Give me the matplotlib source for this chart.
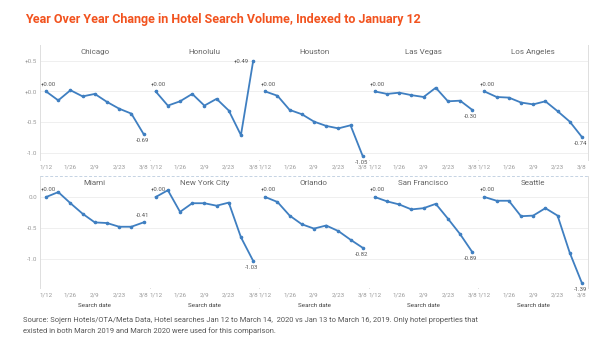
import matplotlib
matplotlib.use("Agg")
import matplotlib.pyplot as plt
from matplotlib.lines import Line2D

cities = ["Chicago", "Honolulu", "Houston", "Las Vegas", "Los Angeles",
          "Miami", "New York City", "Orlando", "San Francisco", "Seattle"]
weeks = ["1/12", "1/19", "1/26", "2/2", "2/9", "2/16", "2/23", "3/1", "3/8"]
tick_labels = ["1/12", "1/26", "2/9", "2/23", "3/8"]

chicago = [0.00, -0.145, 0.02, -0.08, -0.04, -0.17, -0.28, -0.36, -0.69]
honolulu = [0.00, -0.23, -0.16, -0.04, -0.23, -0.12, -0.31, -0.71, 0.49]
houston = [0.00, -0.07, -0.30, -0.37, -0.49, -0.56, -0.60, -0.55, -1.05]
las_vegas = [0.00, -0.04, -0.02, -0.06, -0.09, 0.06, -0.16, -0.15, -0.30]
los_angeles = [0.00, -0.09, -0.10, -0.18, -0.21, -0.16, -0.32, -0.49, -0.74]
miami = [0.00, 0.08, -0.10, -0.27, -0.41, -0.42, -0.48, -0.48, -0.41]
new_york = [0.00, 0.11, -0.24, -0.10, -0.10, -0.14, -0.09, -0.65, -1.03]
orlando = [0.00, -0.08, -0.30, -0.44, -0.51, -0.46, -0.55, -0.69, -0.82]
san_francisco = [0.00, -0.07, -0.12, -0.20, -0.18, -0.11, -0.35, -0.60, -0.89]
seattle = [0.00, -0.06, -0.06, -0.31, -0.30, -0.18, -0.30, -0.90, -1.39]

series = [chicago, honolulu, houston, las_vegas, los_angeles,
          miami, new_york, orlando, san_francisco, seattle]

W, H = 607, 353
fig = plt.figure(figsize=(W / 100, H / 100), dpi=100)
plt.rcParams['font.family'] = ['Roboto', 'DejaVu Sans']

LINE = "#3f7fc1"
GRID = "#ececec"
SEP = "#dedede"
TICK = "#9a9a9a"

def px_axes(x0, y0, x1, y1):
    return fig.add_axes([x0 / W, 1 - y1 / H, (x1 - x0) / W, (y1 - y0) / H])

left0, col_w = 40, 109.6
rows = [dict(top=45, bottom=160, ylim=(-1.114, 0.755), yticks=[0.5, 0.0, -0.5, -1.0],
             ylabels=["+0.5", "+0.0", "-0.5", "-1.0"]),
        dict(top=176, bottom=288, ylim=(-1.47, 0.34), yticks=[0.0, -0.5, -1.0],
             ylabels=["0.0", "-0.5", "-1.0"])]

x = list(range(len(weeks)))
tick_pos = [weeks.index(t) for t in tick_labels]

for i, (city, vals) in enumerate(zip(cities, series)):
    r, c = divmod(i, 5)
    row = rows[r]
    x0 = left0 + c * col_w
    ax = px_axes(x0, row["top"], x0 + col_w, row["bottom"])
    ax.set_xlim(-0.5, len(weeks) - 0.5)
    ax.set_ylim(*row["ylim"])
    for yv in row["yticks"]:
        ax.axhline(yv, color=GRID, lw=0.6, zorder=0)
    ax.plot(x, vals, color=LINE, lw=1.3, marker="o", ms=1.6, zorder=3)
    for s in ["top", "left", "bottom"]:
        ax.spines[s].set_visible(False)
    ax.spines["right"].set_color(SEP)
    ax.spines["right"].set_linewidth(0.7)
    if c == 0:
        ax.spines["left"].set_visible(True)
        ax.spines["left"].set_color(SEP)
        ax.spines["left"].set_linewidth(0.7)
        ax.set_yticks(row["yticks"])
        ax.set_yticklabels(row["ylabels"])
    else:
        ax.set_yticks([])
    ax.tick_params(axis="y", length=0, pad=2, labelsize=4.5, labelcolor=TICK)
    ax.set_xticks(tick_pos)
    ax.set_xticklabels(tick_labels)
    ax.tick_params(axis="x", length=0, pad=3, labelsize=4.5, labelcolor=TICK)
    # panel title
    ax.text(0.5, 1 - 7 / (row["bottom"] - row["top"]), city, transform=ax.transAxes,
            ha="center", va="center", fontsize=5.8, color="#666666")
    # first point label
    ax.annotate(f"{vals[0]:+.2f}", (x[0], vals[0]), xytext=(2, 3.5),
                textcoords="offset points", ha="center", va="bottom",
                fontsize=4.3, color="#555555")
    last = vals[-1]
    lab = f"{last:+.2f}" if last > 0 else f"{last:.2f}"
    if city == "Honolulu":
        ax.annotate(lab, (x[-1], last), xytext=(-3, 0), textcoords="offset points",
                    ha="right", va="center", fontsize=4.3, color="#555555")
    elif city == "Miami":
        ax.annotate(lab, (x[-1], last), xytext=(-1, 3), textcoords="offset points",
                    ha="center", va="bottom", fontsize=4.3, color="#555555")
    else:
        ax.annotate(lab, (x[-1], last), xytext=(-1, -3), textcoords="offset points",
                    ha="center", va="top", fontsize=4.3, color="#555555",
                    annotation_clip=False)
    if r == 1:
        ax.text(0.5, -0.135, "Search date", transform=ax.transAxes, ha="center",
                va="top", fontsize=4.5, color="#444444")

# dashed separator between rows
fig.add_artist(Line2D([left0 / W, (left0 + 5 * col_w) / W], [1 - 176 / H, 1 - 176 / H],
                      color="#c5d3e3", lw=0.7, ls=(0, (3, 2))))

fig.text(25 / W, 1 - 19 / H, "Year Over Year Change in Hotel Search Volume, Indexed to January 12",
         ha="left", va="center", fontsize=9, fontweight="bold", color="#f2531f")

fig.text(23 / W, 1 - 326 / H,
         "Source: Sojern Hotels/OTA/Meta Data, Hotel searches Jan 12 to March 14,  2020 vs Jan 13 to March 16, 2019. Only hotel properties that\n"
         "existed in both March 2019 and March 2020 were used for this comparison.",
         ha="left", va="center", fontsize=5.4, color="#555555", linespacing=1.5)

fig.savefig("out.png", dpi=100, facecolor="white")
